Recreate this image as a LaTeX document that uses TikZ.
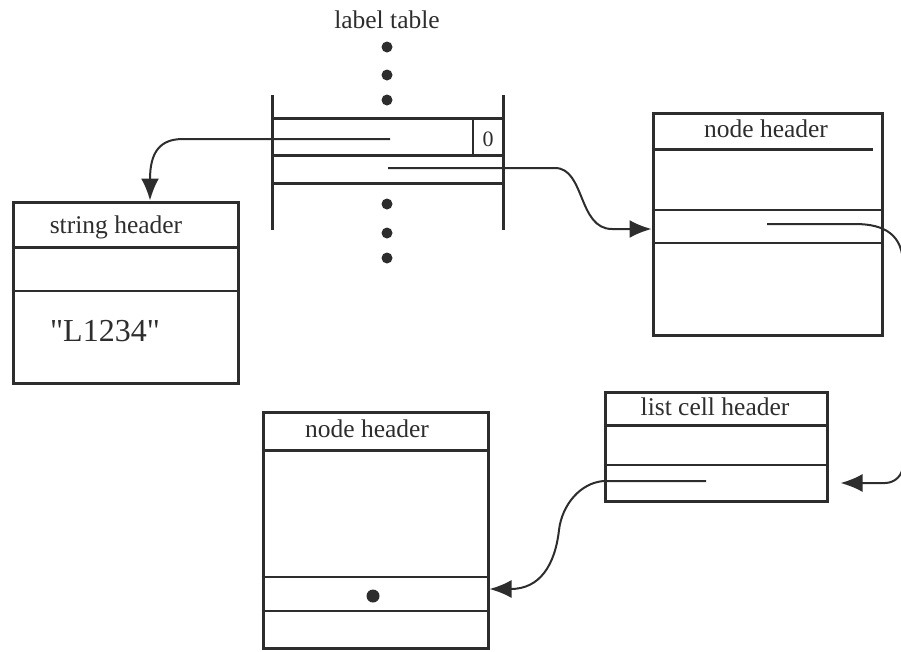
\documentclass[tikz,border=0pt]{standalone}
\usepackage{fontspec}
\setmainfont{Liberation Serif}
\newfontfamily\plainserif[Ligatures=TeXOff]{Liberation Serif}
\usetikzlibrary{arrows.meta}
\definecolor{ink}{RGB}{45,45,45}
\begin{document}
\begin{tikzpicture}[x=1pt,y=-1pt,
  box/.style={draw=ink,line width=3pt,inner sep=0pt},
  thk/.style={draw=ink,line width=3pt},
  thn/.style={draw=ink,line width=2pt},
  ptr/.style={draw=ink,line width=2pt,-{Latex[length=22pt,width=18pt]}},
  lbl/.style={font=\fontsize{25.5}{30}\selectfont,text=ink,inner sep=0pt,anchor=base},
  dotm/.style={circle,fill=ink,inner sep=0pt,minimum size=11pt}]
\useasboundingbox (0,0) rectangle (901,651);
\clip (0,0) rectangle (901,651);
% label table
\node[lbl] (lt) at (387,28) {label table};
\node[dotm] (d1) at (387,47) {};
\node[dotm] (d2) at (387,75) {};
\node[dotm] (d3) at (387,100) {};
\node[dotm] (d4) at (387,204) {};
\node[dotm] (d5) at (387,233) {};
\node[dotm] (d6) at (387,258) {};
\draw[thk] (272,95) -- (272,230);
\draw[thk] (503,95) -- (503,230);
\draw[thk] (272,118) -- (503,118);
\draw[thk] (272,155) -- (503,155);
\draw[thk] (272,183) -- (503,183);
\draw[thn] (473,118) -- (473,155);
\node[lbl,font=\fontsize{22}{26}\selectfont] (zero) at (488,146) {0};
\coordinate (p1) at (390,139);
\coordinate (p2) at (388,168);
% string header
\node[box,minimum width=225pt,minimum height=181pt] (sh) at (125.5,292.5) {};
\draw[thk] (sh.west |- 0,247) -- (sh.east |- 0,247);
\draw[thn] (sh.west |- 0,291) -- (sh.east |- 0,291);
\node[lbl] (shl) at (116,233) {string header};
\node[lbl,font=\plainserif\fontsize{32}{36}\selectfont] (str) at (105,341) {"L1234"};
% node header 1
\node[box,minimum width=229pt,minimum height=222pt] (nh1) at (767.5,224) {};
\draw[thk] (nh1.west |- 0,149) -- (873,149);
\draw[thn] (nh1.west |- 0,210) -- (nh1.east |- 0,210);
\draw[thn] (nh1.west |- 0,243) -- (nh1.east |- 0,243);
\node[lbl] (nh1l) at (766,137) {node header};
\coordinate (p3) at (767,224);
% list cell header
\node[box,minimum width=222pt,minimum height=109pt] (lc) at (716,446.5) {};
\draw[thk] (lc.west |- 0,425) -- (lc.east |- 0,425);
\draw[thn] (lc.west |- 0,465) -- (lc.east |- 0,465);
\node[lbl] (lcl) at (715,415) {list cell header};
\coordinate (p4) at (706,481);
% node header 2
\node[box,minimum width=225pt,minimum height=236pt] (nh2) at (375.5,530) {};
\draw[thk] (nh2.west |- 0,450) -- (nh2.east |- 0,450);
\draw[thn] (nh2.west |- 0,577) -- (nh2.east |- 0,577);
\draw[thn] (nh2.west |- 0,611) -- (nh2.east |- 0,611);
\node[lbl] (nh2l) at (367,437) {node header};
\node[dotm,minimum size=13pt] (nd) at (373,596) {};
% connectors
\draw[ptr] (p1) -- (183,139) .. controls (160,139) and (150,152) .. ([xshift=24.5pt]sh.north);
\draw[ptr] (p2) -- (555,168) .. controls (585,168) and (578,229) .. (612,229) -- ([yshift=-5pt]nh1.west);
\draw[ptr,shorten >=12pt] (p3) -- (855,224) .. controls (885,224) and (903,235) .. (903,265)
  -- (903,465) .. controls (903,475) and (895,483) .. (885,483) -- (lc.east |- 0,483);
\draw[ptr] (p4) -- (lc.west |- 0,481) .. controls (580,483) and (562,505) .. (559,530)
  .. controls (555,565) and (540,589) .. (nh2.east |- 0,589);
\end{tikzpicture}
\end{document}
